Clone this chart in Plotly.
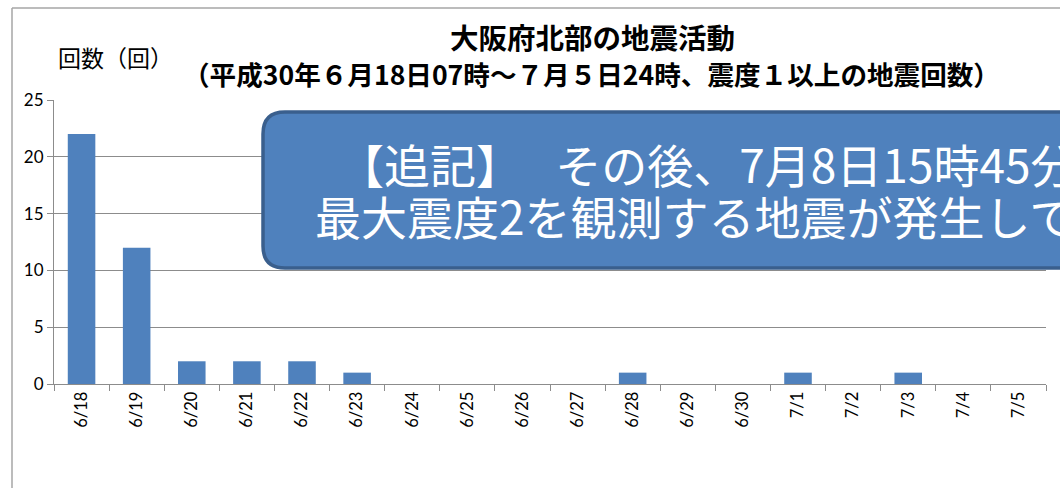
import plotly.graph_objects as go

# ---- data ----
dates = ["6/18", "6/19", "6/20", "6/21", "6/22", "6/23", "6/24", "6/25", "6/26",
         "6/27", "6/28", "6/29", "6/30", "7/1", "7/2", "7/3", "7/4", "7/5"]
counts = [22, 12, 2, 2, 2, 1, 0, 0, 0, 0, 1, 0, 0, 1, 0, 1, 0, 0]
y_ticks = [0, 5, 10, 15, 20, 25]

title_text = "大阪府北部の地震活動"
subtitle_text = "（平成30年６月18日07時～７月５日24時、震度１以上の地震回数）"
ylabel_text = "回数（回）"
note_line1 = "【追記】　 その後、7月8日15時45分"
note_line2 = "最大震度2を観測する地震が発生して"

# ---- layout geometry (pixels) ----
W, H = 1060, 488
L, R, T, B = 54, 14, 100, 104
PW, PH = W - L - R, H - T - B


def px(x):
    return (x - L) / PW


def py(y):
    return (H - B - y) / PH


BAR = "#4f81bd"
GRID = "#8c8c8c"
JP = "Noto Sans CJK JP"
NUM = "Lato, Open Sans, sans-serif"

fig = go.Figure()
fig.add_trace(go.Bar(x=dates, y=counts, marker=dict(color=BAR, line=dict(width=0)),
                     hoverinfo="x+y"))

# annotation box (rounded rectangle running off the right edge)
x0, x1 = px(263), px(1130)
yt, yb = py(112), py(268)
rx, ry = 22 / PW, 22 / PH
path = (f"M {x0+rx},{yt} L {x1},{yt} L {x1},{yb} L {x0+rx},{yb} "
        f"Q {x0},{yb} {x0},{yb+ry} L {x0},{yt-ry} Q {x0},{yt} {x0+rx},{yt} Z")

shapes = [
    dict(type="path", xref="paper", yref="paper", path=path,
         fillcolor=BAR, line=dict(color="#3a5f8d", width=3.5), layer="above"),
    # outer frame (left and top edges)
    dict(type="line", xref="paper", yref="paper", x0=px(12), x1=px(12),
         y0=py(520), y1=py(8), line=dict(color="#a6a6a6", width=1.5)),
    dict(type="line", xref="paper", yref="paper", x0=px(12), x1=px(1120),
         y0=py(8), y1=py(8), line=dict(color="#a6a6a6", width=1.5)),
]

annotations = [
    dict(text=title_text, xref="paper", yref="paper", x=px(592), y=py(37),
         xanchor="center", yanchor="middle", showarrow=False,
         font=dict(family=JP, size=28.5, color="#000000", weight="bold")),
    dict(text=subtitle_text, xref="paper", yref="paper", x=px(591), y=py(74),
         xanchor="center", yanchor="middle", showarrow=False,
         font=dict(family=JP, size=26.6, color="#000000", weight="bold")),
    dict(text=ylabel_text, xref="paper", yref="paper", x=px(56), y=py(57),
         xanchor="left", yanchor="middle", showarrow=False,
         font=dict(family=JP, size=23, color="#000000")),
    dict(text=note_line1, xref="paper", yref="paper", x=px(336), y=py(163),
         xanchor="left", yanchor="middle", showarrow=False,
         font=dict(family=JP, size=46, color="#ffffff")),
    dict(text=note_line2, xref="paper", yref="paper", x=px(313), y=py(215),
         xanchor="left", yanchor="middle", showarrow=False,
         font=dict(family=JP, size=46, color="#ffffff")),
]

fig.update_layout(
    width=W, height=H,
    margin=dict(l=L, r=R, t=T, b=B, pad=0),
    paper_bgcolor="#ffffff", plot_bgcolor="#ffffff",
    showlegend=False, bargap=0.5,
    shapes=shapes, annotations=annotations,
    xaxis=dict(type="category", tickson="boundaries", ticks="outside", ticklen=6,
               tickcolor=GRID, tickwidth=1, showline=True, linecolor=GRID, linewidth=1,
               showgrid=False, tickangle=-90,
               tickfont=dict(family=NUM, size=16.5, color="#000000")),
    yaxis=dict(range=[0, 25], tickvals=y_ticks, ticks="outside", ticklen=6,
               tickcolor=GRID, tickwidth=1, showline=True, linecolor=GRID, linewidth=1,
               showgrid=True, gridcolor=GRID, gridwidth=1, zeroline=False,
               tickfont=dict(family=NUM, size=17, color="#000000")),
)

fig.write_html("out.html")
